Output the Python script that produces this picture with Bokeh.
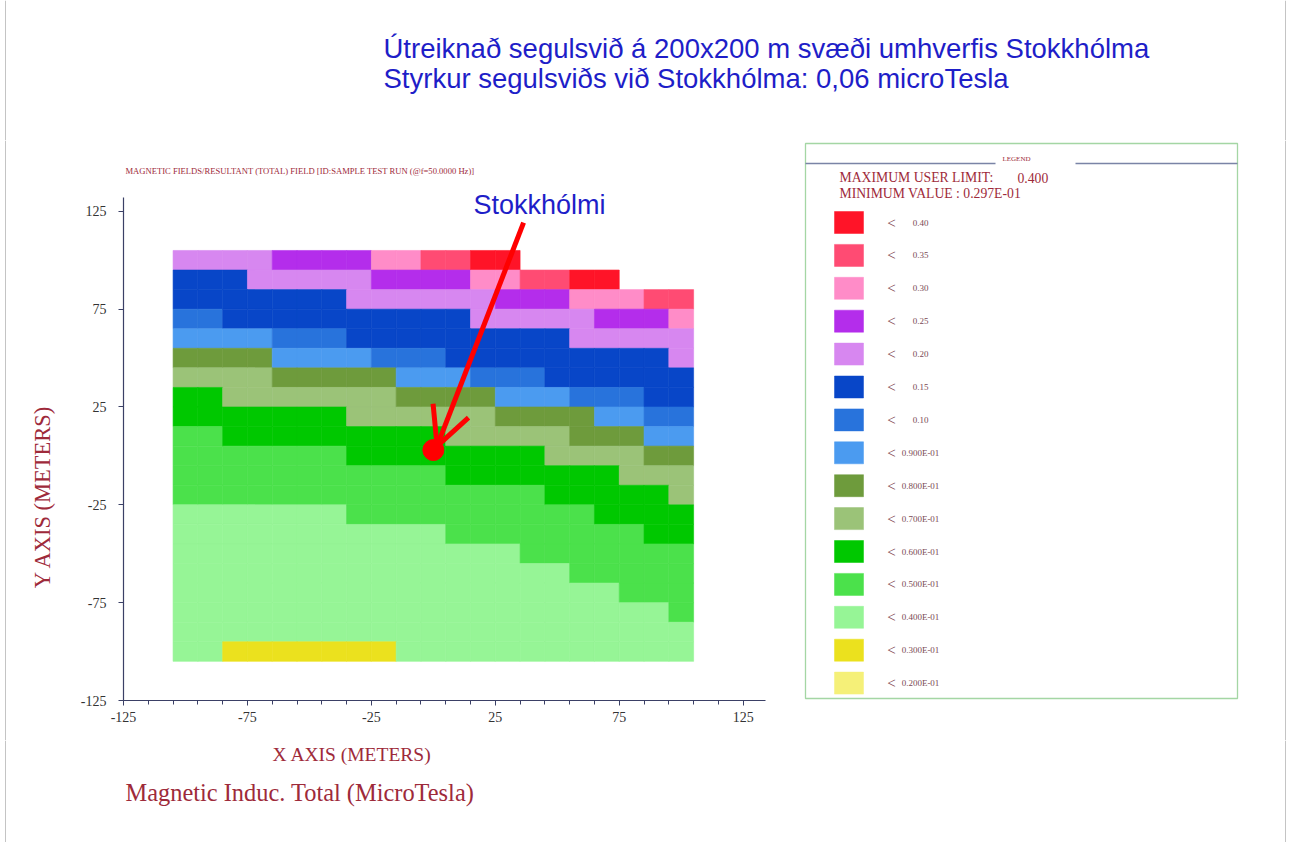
import math
from bokeh.plotting import figure
from bokeh.models import Range1d, FixedTicker, Arrow, OpenHead, ColumnDataSource
from bokeh.layouts import column, row
from bokeh.core.properties import value
from bokeh.embed import file_html
from bokeh.resources import INLINE

# ---------------- data ----------------
title_lines = ["Útreiknað segulsvið á 200x200 m svæði umhverfis Stokkhólma",
               "Styrkur segulsviðs við Stokkhólma: 0,06 microTesla"]
plot_header = "MAGNETIC FIELDS/RESULTANT (TOTAL) FIELD [ID:SAMPLE TEST RUN (@f=50.0000 Hz)]"
x_label = "X AXIS (METERS)"
y_label = "Y AXIS (METERS)"
quantity_label = "Magnetic Induc. Total (MicroTesla)"
station_name = "Stokkhólmi"
station_xy = (0, 3)

x_centres = [-100, -90, -80, -70, -60, -50, -40, -30, -20, -10, 0, 10, 20, 30, 40, 50, 60, 70, 80, 90, 100]
y_centres = [100, 90, 80, 70, 60, 50, 40, 30, 20, 10, 0, -10, -20, -30, -40, -50, -60, -70, -80, -90, -100]

x_ticks = [-125, -75, -25, 25, 75, 125]
y_ticks = [-125, -75, -25, 25, 75, 125]
x_minor_ticks = [-125, -115, -105, -95, -85, -75, -65, -55, -45, -35, -25, -15, -5, 5, 15, 25,
                 35, 45, 55, 65, 75, 85, 95, 105, 115, 125]

# field strength (microTesla) per 10 m cell, rows from y=100 down to y=-100
field_uT = [
    [0.17, 0.17, 0.17, 0.17, 0.22, 0.22, 0.22, 0.22, 0.27, 0.27, 0.32, 0.32, 0.37, 0.37, None, None, None, None, None, None, None],
    [0.12, 0.12, 0.12, 0.17, 0.17, 0.17, 0.17, 0.17, 0.22, 0.22, 0.22, 0.22, 0.27, 0.27, 0.32, 0.32, 0.37, 0.37, None, None, None],
    [0.12, 0.12, 0.12, 0.12, 0.12, 0.12, 0.12, 0.17, 0.17, 0.17, 0.17, 0.17, 0.17, 0.22, 0.22, 0.22, 0.27, 0.27, 0.27, 0.32, 0.32],
    [0.095, 0.095, 0.12, 0.12, 0.12, 0.12, 0.12, 0.12, 0.12, 0.12, 0.12, 0.12, 0.17, 0.17, 0.17, 0.17, 0.17, 0.22, 0.22, 0.22, 0.27],
    [0.085, 0.085, 0.085, 0.085, 0.095, 0.095, 0.095, 0.12, 0.12, 0.12, 0.12, 0.12, 0.12, 0.12, 0.12, 0.12, 0.17, 0.17, 0.17, 0.17, 0.17],
    [0.075, 0.075, 0.075, 0.075, 0.085, 0.085, 0.085, 0.085, 0.095, 0.095, 0.095, 0.12, 0.12, 0.12, 0.12, 0.12, 0.12, 0.12, 0.12, 0.12, 0.17],
    [0.065, 0.065, 0.065, 0.065, 0.075, 0.075, 0.075, 0.075, 0.075, 0.085, 0.085, 0.085, 0.095, 0.095, 0.095, 0.12, 0.12, 0.12, 0.12, 0.12, 0.12],
    [0.055, 0.055, 0.065, 0.065, 0.065, 0.065, 0.065, 0.065, 0.065, 0.075, 0.075, 0.075, 0.075, 0.085, 0.085, 0.085, 0.095, 0.095, 0.095, 0.12, 0.12],
    [0.055, 0.055, 0.055, 0.055, 0.055, 0.055, 0.055, 0.065, 0.065, 0.065, 0.065, 0.065, 0.065, 0.075, 0.075, 0.075, 0.075, 0.085, 0.085, 0.095, 0.095],
    [0.045, 0.045, 0.055, 0.055, 0.055, 0.055, 0.055, 0.055, 0.055, 0.055, 0.055, 0.065, 0.065, 0.065, 0.065, 0.065, 0.075, 0.075, 0.075, 0.085, 0.085],
    [0.045, 0.045, 0.045, 0.045, 0.045, 0.045, 0.045, 0.055, 0.055, 0.055, 0.055, 0.055, 0.055, 0.055, 0.055, 0.065, 0.065, 0.065, 0.065, 0.075, 0.075],
    [0.045, 0.045, 0.045, 0.045, 0.045, 0.045, 0.045, 0.045, 0.045, 0.045, 0.045, 0.055, 0.055, 0.055, 0.055, 0.055, 0.055, 0.055, 0.065, 0.065, 0.065],
    [0.045, 0.045, 0.045, 0.045, 0.045, 0.045, 0.045, 0.045, 0.045, 0.045, 0.045, 0.045, 0.045, 0.045, 0.045, 0.055, 0.055, 0.055, 0.055, 0.055, 0.065],
    [0.035, 0.035, 0.035, 0.035, 0.035, 0.035, 0.035, 0.045, 0.045, 0.045, 0.045, 0.045, 0.045, 0.045, 0.045, 0.045, 0.045, 0.055, 0.055, 0.055, 0.055],
    [0.035, 0.035, 0.035, 0.035, 0.035, 0.035, 0.035, 0.035, 0.035, 0.035, 0.035, 0.045, 0.045, 0.045, 0.045, 0.045, 0.045, 0.045, 0.045, 0.055, 0.055],
    [0.035, 0.035, 0.035, 0.035, 0.035, 0.035, 0.035, 0.035, 0.035, 0.035, 0.035, 0.035, 0.035, 0.035, 0.045, 0.045, 0.045, 0.045, 0.045, 0.045, 0.045],
    [0.035, 0.035, 0.035, 0.035, 0.035, 0.035, 0.035, 0.035, 0.035, 0.035, 0.035, 0.035, 0.035, 0.035, 0.035, 0.035, 0.045, 0.045, 0.045, 0.045, 0.045],
    [0.035, 0.035, 0.035, 0.035, 0.035, 0.035, 0.035, 0.035, 0.035, 0.035, 0.035, 0.035, 0.035, 0.035, 0.035, 0.035, 0.035, 0.035, 0.045, 0.045, 0.045],
    [0.035, 0.035, 0.035, 0.035, 0.035, 0.035, 0.035, 0.035, 0.035, 0.035, 0.035, 0.035, 0.035, 0.035, 0.035, 0.035, 0.035, 0.035, 0.035, 0.035, 0.045],
    [0.035, 0.035, 0.035, 0.035, 0.035, 0.035, 0.035, 0.035, 0.035, 0.035, 0.035, 0.035, 0.035, 0.035, 0.035, 0.035, 0.035, 0.035, 0.035, 0.035, 0.035],
    [0.035, 0.035, 0.0298, 0.0298, 0.0297, 0.0297, 0.0298, 0.0299, 0.0299, 0.035, 0.035, 0.035, 0.035, 0.035, 0.035, 0.035, 0.035, 0.035, 0.035, 0.035, 0.035],
]

legend_limits = [0.40, 0.35, 0.30, 0.25, 0.20, 0.15, 0.10, 0.09, 0.08, 0.07, 0.06, 0.05, 0.04, 0.03, 0.02]
legend_labels = ["0.40", "0.35", "0.30", "0.25", "0.20", "0.15", "0.10", "0.900E-01", "0.800E-01",
                 "0.700E-01", "0.600E-01", "0.500E-01", "0.400E-01", "0.300E-01", "0.200E-01"]
legend_colours = ["#FF1428", "#FF4B73", "#FF8CC8", "#B42DEB", "#D787F0", "#0846C8", "#2873DC", "#4B9BF0",
                  "#6E9B3C", "#9BC378", "#00C800", "#4BE14B", "#96F596", "#EBE11E", "#F5F078"]
max_user_limit = "0.400"
min_value = "0.297E-01"

# ---------------- colours per cell ----------------
limits_asc = legend_limits[::-1]
colours_asc = legend_colours[::-1]


def colour_of(v):
    for lim, c in zip(limits_asc, colours_asc):
        if v < lim:
            return c
    return legend_colours[0]


cx, cy, cc = [], [], []
for r, yv in enumerate(y_centres):
    for c, xv in enumerate(x_centres):
        v = field_uT[r][c]
        if v is None:
            continue
        cx.append(xv)
        cy.append(yv)
        cc.append(colour_of(v))
cells = ColumnDataSource(dict(x=cx, y=cy, color=cc))

DARK_RED = "#9E2A3A"
BLUE_TXT = "#1E1EC8"
AXIS_COL = "#3B4066"
BORDER = "#C4C4C4"
SERIF = value("Liberation Serif")
SANS = value("Liberation Sans")

PAGE_W, TOP_H, MID_H, BOT_H = 1288, 140, 600, 102
LEFT_W, MAIN_W = 70, 720
LEG_W = PAGE_W - LEFT_W - MAIN_W


def blank(width, height, x0, x1, y_top, y_bot):
    f = figure(width=width, height=height, x_range=Range1d(x0, x1), y_range=Range1d(y_bot, y_top),
               x_axis_location=None, y_axis_location=None, min_border=0,
               output_backend="svg", toolbar_location=None)
    f.outline_line_color = None
    f.grid.visible = False
    return f


def free_frame(f):
    try:
        f.frame_align = False
    except Exception:
        pass


# ---------------- title strip ----------------
t = blank(PAGE_W, TOP_H, 0, PAGE_W, 0, TOP_H)
t.segment(x0=[5, 1285], y0=[0, 0], x1=[5, 1285], y1=[TOP_H, TOP_H], line_color=BORDER, line_width=1)
t.text(x=[383, 383], y=[48, 78], text=title_lines, text_font=SANS,
       text_font_size="27.5px", text_color=BLUE_TXT, text_baseline="alphabetic", text_align="left")

# ---------------- left strip (y label) ----------------
lf = blank(LEFT_W, MID_H, 0, LEFT_W, TOP_H, TOP_H + MID_H)
lf.segment(x0=[5], y0=[TOP_H], x1=[5], y1=[TOP_H + MID_H], line_color=BORDER, line_width=1)
lf.text(x=[42], y=[496], text=[y_label], angle=math.pi / 2, text_font=SERIF,
        text_font_size="22.5px", text_color=DARK_RED, text_align="center", text_baseline="middle")

# ---------------- main plot ----------------
# frame: page x 123..765, page y 140..700
p = figure(width=MAIN_W, height=MID_H, x_range=Range1d(-125, 134), y_range=Range1d(-125, 161.2),
           min_border_left=53, min_border_right=25, min_border_top=0, min_border_bottom=40,
           output_backend="svg", toolbar_location=None)
p.grid.visible = False
p.outline_line_color = None

p.rect(x="x", y="y", width=10, height=10, fill_color="color", line_color="color",
       line_width=0.6, source=cells)

xa = p.xaxis[0]
xa.ticker = FixedTicker(ticks=x_ticks, minor_ticks=x_minor_ticks)
ya = p.yaxis[0]
ya.ticker = FixedTicker(ticks=y_ticks, minor_ticks=[])
ya.bounds = (-125, 132)
for ax in (xa, ya):
    ax.axis_line_color = AXIS_COL
    ax.axis_line_width = 1.2
    ax.major_tick_line_color = AXIS_COL
    ax.major_tick_in = 0
    ax.major_tick_out = 5
    ax.minor_tick_line_color = AXIS_COL
    ax.minor_tick_in = 0
    ax.minor_tick_out = 4
    ax.major_label_text_font = "Liberation Serif"
    ax.major_label_text_font_size = "14px"
    ax.major_label_text_color = "#333333"
    ax.major_label_overrides = {tk: str(tk) for tk in x_ticks if tk < 0}
xa.major_label_standoff = 6
ya.major_label_standoff = 12
ya.minor_tick_line_color = None

# header above the grid and station label (inside the frame area)
p.text(x=[-124.2], y=[145.8], text=[plot_header], text_font=SERIF, text_font_size="8.6px",
       text_color=DARK_RED, text_baseline="middle", text_align="left")
p.text(x=[16.2], y=[128.4], text=[station_name], text_font=SANS, text_font_size="27px",
       text_color=BLUE_TXT, text_baseline="alphabetic", text_align="left")

# station marker and arrow
p.scatter(x=[station_xy[0]], y=[station_xy[1]], size=21, color="#FF0000")
p.add_layout(Arrow(end=OpenHead(size=38, line_color="#FF0000", line_width=5),
                   x_start=36.4, y_start=119.2, x_end=1.5, y_end=5.0,
                   line_color="#FF0000", line_width=5))

# ---------------- legend panel ----------------
x0 = LEFT_W + MAIN_W
lg = blank(LEG_W, MID_H, x0, PAGE_W, TOP_H, TOP_H + MID_H)
lg.segment(x0=[1285], y0=[TOP_H], x1=[1285], y1=[TOP_H + MID_H], line_color=BORDER, line_width=1)
lg.quad(left=[805], right=[1237], top=[143], bottom=[698], fill_color=None,
        line_color="#A4D6A4", line_width=1.3)
lg.segment(x0=[805, 1075], y0=[163, 163], x1=[995, 1237], y1=[163, 163],
           line_color="#7A84A6", line_width=1.6)
lg.text(x=[1016], y=[158], text=["LEGEND"], text_font=SERIF,
        text_font_size="7px", text_color=DARK_RED, text_align="center", text_baseline="middle")
lg.text(x=[839, 1017, 839], y=[177, 177, 193],
        text=["MAXIMUM USER LIMIT:", max_user_limit, "MINIMUM VALUE :  " + min_value],
        text_font=SERIF, text_font_size="13.7px", text_color=DARK_RED,
        text_align="left", text_baseline="alphabetic")

sw_y = [222 + 32.9 * i for i in range(len(legend_limits))]
lg.rect(x=[848.5] * len(sw_y), y=sw_y, width=29, height=22, fill_color=legend_colours,
        line_color=legend_colours, line_width=0.5)
lg.text(x=[891] * len(sw_y), y=sw_y, text=["<"] * len(sw_y), text_font=SERIF,
        text_font_size="15px", text_color="#7A3A48", text_align="center", text_baseline="middle")
lg.text(x=[920] * len(sw_y), y=sw_y, text=legend_labels, text_font=SERIF,
        text_font_size="9px", text_color="#7A4A55", text_align="center", text_baseline="middle")

# ---------------- bottom strip ----------------
y0 = TOP_H + MID_H
bt = blank(PAGE_W, BOT_H, 0, PAGE_W, y0, y0 + BOT_H)
bt.segment(x0=[5, 1285], y0=[y0, y0], x1=[5, 1285], y1=[y0 + BOT_H, y0 + BOT_H],
           line_color=BORDER, line_width=1)
bt.text(x=[272], y=[754], text=[x_label], text_font=SERIF, text_font_size="19.5px",
        text_color=DARK_RED, text_align="left", text_baseline="alphabetic")
bt.text(x=[125], y=[792], text=[quantity_label], text_font=SERIF, text_font_size="24.4px",
        text_color=DARK_RED, text_align="left", text_baseline="alphabetic")

for f in (t, lf, p, lg, bt):
    free_frame(f)

layout = column(t, row(lf, p, lg), bt)
open("out.html", "w").write(file_html(layout, INLINE))
